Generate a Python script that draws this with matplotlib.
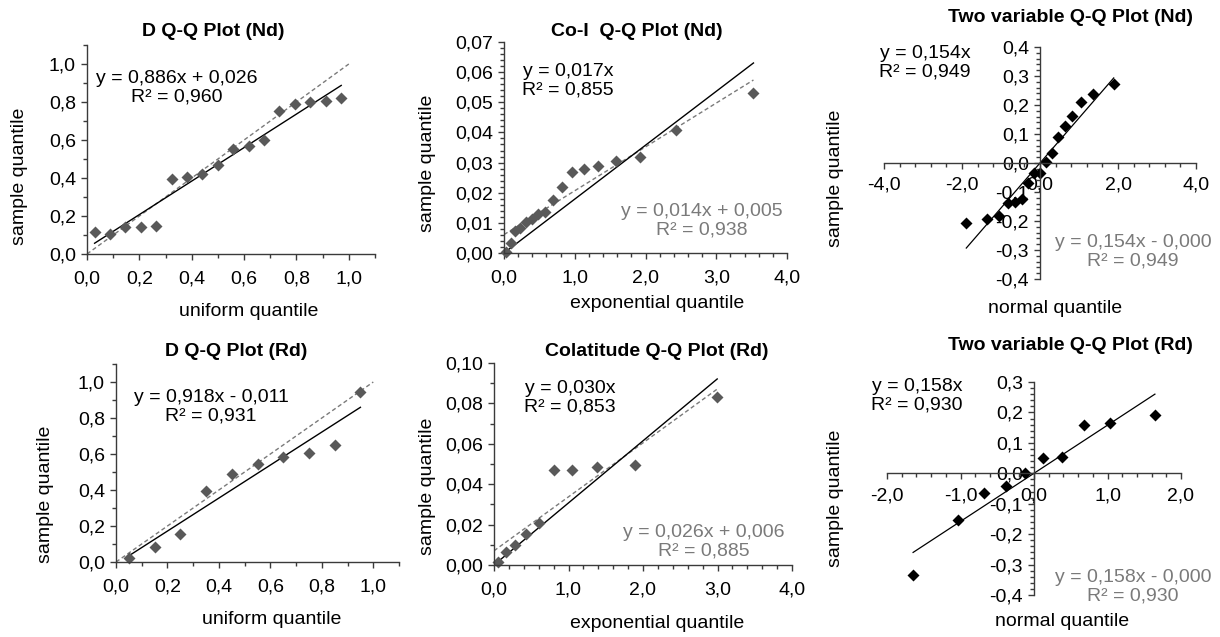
import numpy as np
import matplotlib
matplotlib.use("Agg")
import matplotlib.pyplot as plt
from matplotlib.ticker import MultipleLocator, FuncFormatter

plt.rcParams['font.family'] = ['Liberation Sans', 'DejaVu Sans']

# ---- data ----
# D Q-Q plot (Nd): uniform quantile vs sample quantile
d_nd_x = [0.029, 0.088, 0.147, 0.206, 0.265, 0.324, 0.382, 0.441, 0.500,
          0.559, 0.618, 0.676, 0.735, 0.794, 0.853, 0.912, 0.971]
d_nd_y = [0.117, 0.103, 0.143, 0.143, 0.149, 0.393, 0.406, 0.420, 0.470,
          0.551, 0.568, 0.598, 0.752, 0.787, 0.799, 0.804, 0.820]

# Co-I Q-Q plot (Nd): exponential quantile
coi_nd_x = [0.030, 0.092, 0.159, 0.231, 0.308, 0.391, 0.482, 0.583, 0.693,
            0.818, 0.962, 1.128, 1.329, 1.580, 1.917, 2.428, 3.526]
coi_nd_y = [0.0003, 0.0032, 0.0072, 0.0082, 0.0102, 0.0113, 0.0131, 0.0136, 0.0175,
            0.0218, 0.0270, 0.0278, 0.0290, 0.0304, 0.0318, 0.0407, 0.0530]

# Two variable Q-Q plot (Nd): normal quantile
two_nd_x = [-1.89, -1.35, -1.05, -0.82, -0.63, -0.46, -0.30, -0.15, 0.00,
            0.15, 0.30, 0.46, 0.63, 0.82, 1.05, 1.35, 1.89]
two_nd_y = [-0.208, -0.194, -0.183, -0.139, -0.133, -0.125, -0.068, -0.036, -0.036,
            0.005, 0.036, 0.089, 0.126, 0.162, 0.211, 0.237, 0.272]

# D Q-Q plot (Rd)
d_rd_x = [0.05, 0.15, 0.25, 0.35, 0.45, 0.55, 0.65, 0.75, 0.85, 0.95]
d_rd_y = [0.020, 0.085, 0.156, 0.394, 0.491, 0.543, 0.581, 0.607, 0.648, 0.944]

# Colatitude Q-Q plot (Rd)
col_rd_x = [0.051, 0.163, 0.288, 0.431, 0.598, 0.799, 1.050, 1.386, 1.897, 2.996]
col_rd_y = [0.0013, 0.0066, 0.0099, 0.0152, 0.0210, 0.0468, 0.0468, 0.0483, 0.0494, 0.0831]

# Two variable Q-Q plot (Rd)
two_rd_x = [-1.645, -1.036, -0.674, -0.385, -0.126, 0.126, 0.385, 0.674, 1.036, 1.645]
two_rd_y = [-0.335, -0.155, -0.064, -0.041, 0.001, 0.049, 0.052, 0.159, 0.165, 0.192]

W, H = 1220, 637
fig = plt.figure(figsize=(W / 100, H / 100), dpi=100)

GRAY_PT = '#595959'
GRAY_TXT = '#7a7a7a'
AXC = '#3a3a3a'
FS = 14


def px(x, y):
    return x / W, 1 - y / H


def axes_at(x0, x1, ytop, ybot):
    return fig.add_axes([x0 / W, 1 - ybot / H, (x1 - x0) / W, (ybot - ytop) / H])


def comma(nd):
    def f(v, pos):
        if abs(v) < 1e-9:
            v = 0.0
        return f"{v:.{nd}f}".replace('.', ',')
    return FuncFormatter(f)


def style(ax, xmaj, xmin, ymaj, ymin, xnd, ynd, centered=False):
    for s in ['top', 'right']:
        ax.spines[s].set_visible(False)
    for s in ['left', 'bottom']:
        ax.spines[s].set_color(AXC)
        ax.spines[s].set_linewidth(1.0)
    if centered:
        ax.spines['left'].set_position(('data', 0))
        ax.spines['bottom'].set_position(('data', 0))
    ax.xaxis.set_major_locator(MultipleLocator(xmaj))
    ax.xaxis.set_minor_locator(MultipleLocator(xmin))
    ax.yaxis.set_major_locator(MultipleLocator(ymaj))
    ax.yaxis.set_minor_locator(MultipleLocator(ymin))
    ax.xaxis.set_major_formatter(comma(xnd))
    ax.yaxis.set_major_formatter(comma(ynd))
    ax.tick_params(which='both', color=AXC, width=1.0, labelsize=FS)
    ax.tick_params(which='major', length=4)
    ax.tick_params(which='minor', length=3)
    ax.tick_params(axis='x', pad=8 if not centered else 6)
    ax.tick_params(axis='y', pad=4)
    ax.patch.set_alpha(0)


def fit(x, y):
    b, a = np.polyfit(x, y, 1)
    return b, a


def fit0(x, y):
    x = np.asarray(x)
    y = np.asarray(y)
    return (x * y).sum() / (x * x).sum()


def label(x, y, s, **kw):
    fig.text(*px(x, y), s, ha='center', va='center', **kw)


def eq(x, y, s, color='black'):
    fig.text(*px(x, y), s, ha='center', va='center', fontsize=FS,
             color=color, multialignment='center', linespacing=1.1)


# ---------- D Q-Q Plot (Nd) ----------
ax = axes_at(87, 375, 45, 254)
ax.set_xlim(0, 1.1)
ax.set_ylim(0, 1.1)
style(ax, 0.2, 0.1, 0.2, 0.1, 1, 1)
ax.plot([0, 1], [0, 1], color=GRAY_TXT, lw=1.0, dashes=(3, 2))
b, a = fit(d_nd_x, d_nd_y)
xs = np.array([min(d_nd_x), max(d_nd_x)])
ax.plot(xs, b * xs + a, color='black', lw=1.0)
ax.plot(d_nd_x, d_nd_y, 'D', color=GRAY_PT, ms=6.5, mec='none', clip_on=False)
label(213, 32, 'D Q-Q Plot (Nd)', fontsize=FS, fontweight='bold')
label(249, 312, 'uniform quantile', fontsize=FS)
label(20, 176, 'sample quantile', fontsize=FS, rotation=90)
eq(177, 88, 'y = 0,886x + 0,026\nR² = 0,960')

# ---------- Co-I Q-Q Plot (Nd) ----------
ax = axes_at(504, 787, 42, 253)
ax.set_xlim(0, 4)
ax.set_ylim(0, 0.07)
style(ax, 1.0, 0.2, 0.01, 0.002, 1, 2)
b, a = fit(coi_nd_x, coi_nd_y)
xs = np.array([0, max(coi_nd_x)])
ax.plot(xs, b * xs + a, color=GRAY_TXT, lw=1.0, dashes=(3, 2))
b0 = fit0(coi_nd_x, coi_nd_y)
ax.plot(xs, b0 * xs, color='black', lw=1.0)
ax.plot(coi_nd_x, coi_nd_y, 'D', color=GRAY_PT, ms=6.5, mec='none', clip_on=False)
label(637, 31, 'Co-I  Q-Q Plot (Nd)', fontsize=FS, fontweight='bold')
label(657, 303, 'exponential quantile', fontsize=FS)
label(428, 163, 'sample quantile', fontsize=FS, rotation=90)
eq(568, 81, 'y = 0,017x\nR² = 0,855')
eq(702, 221, 'y = 0,014x + 0,005\nR² = 0,938', color=GRAY_TXT)

# ---------- Two variable Q-Q Plot (Nd) ----------
ax = axes_at(884, 1196, 47, 279)
ax.set_xlim(-4, 4)
ax.set_ylim(-0.4, 0.4)
style(ax, 2.0, 0.4, 0.1, 0.02, 1, 1, centered=True)
b0 = fit0(two_nd_x, two_nd_y)
xs = np.array([min(two_nd_x), max(two_nd_x)])
ax.plot(xs, b0 * xs, color='black', lw=0.9)
ax.plot(two_nd_x, two_nd_y, 'D', color='black', ms=6, mec='none', clip_on=False)
label(1070, 17, 'Two variable Q-Q Plot (Nd)', fontsize=FS, fontweight='bold')
label(1055, 308, 'normal quantile', fontsize=FS)
label(835, 178, 'sample quantile', fontsize=FS, rotation=90)
eq(925, 63, 'y = 0,154x\nR² = 0,949')
eq(1133, 252, 'y = 0,154x - 0,000\nR² = 0,949', color=GRAY_TXT)

# ---------- D Q-Q Plot (Rd) ----------
ax = axes_at(116, 399, 364, 562)
ax.set_xlim(0, 1.1)
ax.set_ylim(0, 1.1)
style(ax, 0.2, 0.1, 0.2, 0.1, 1, 1)
ax.plot([0, 1], [0, 1], color=GRAY_TXT, lw=1.0, dashes=(3, 2))
b, a = fit(d_rd_x, d_rd_y)
xs = np.array([min(d_rd_x), max(d_rd_x)])
ax.plot(xs, b * xs + a, color='black', lw=1.0)
ax.plot(d_rd_x, d_rd_y, 'D', color=GRAY_PT, ms=6.5, mec='none', clip_on=False)
label(236, 352, 'D Q-Q Plot (Rd)', fontsize=FS, fontweight='bold')
label(272, 620, 'uniform quantile', fontsize=FS)
label(45, 494, 'sample quantile', fontsize=FS, rotation=90)
eq(211, 407, 'y = 0,918x - 0,011\nR² = 0,931')

# ---------- Colatitude Q-Q Plot (Rd) ----------
ax = axes_at(494, 792, 363, 565)
ax.set_xlim(0, 4)
ax.set_ylim(0, 0.10)
style(ax, 1.0, 0.2, 0.02, 0.01, 1, 2)
b, a = fit(col_rd_x, col_rd_y)
xs = np.array([0, max(col_rd_x)])
ax.plot(xs, b * xs + a, color=GRAY_TXT, lw=1.0, dashes=(3, 2))
b0 = fit0(col_rd_x, col_rd_y)
ax.plot(xs, b0 * xs, color='black', lw=1.0)
ax.plot(col_rd_x, col_rd_y, 'D', color=GRAY_PT, ms=6.5, mec='none', clip_on=False)
label(657, 352, 'Colatitude Q-Q Plot (Rd)', fontsize=FS, fontweight='bold')
label(657, 623, 'exponential quantile', fontsize=FS)
label(428, 486, 'sample quantile', fontsize=FS, rotation=90)
eq(570, 398, 'y = 0,030x\nR² = 0,853')
eq(704, 542, 'y = 0,026x + 0,006\nR² = 0,885', color=GRAY_TXT)

# ---------- Two variable Q-Q Plot (Rd) ----------
ax = axes_at(887, 1181, 382, 595)
ax.set_xlim(-2, 2)
ax.set_ylim(-0.4, 0.3)
style(ax, 1.0, 0.2, 0.1, 0.02, 1, 1, centered=True)
b0 = fit0(two_rd_x, two_rd_y)
xs = np.array([min(two_rd_x), max(two_rd_x)])
ax.plot(xs, b0 * xs, color='black', lw=0.9)
ax.plot(two_rd_x, two_rd_y, 'D', color='black', ms=6, mec='none', clip_on=False)
label(1070, 345, 'Two variable Q-Q Plot (Rd)', fontsize=FS, fontweight='bold')
label(1062, 622, 'normal quantile', fontsize=FS)
label(835, 498, 'sample quantile', fontsize=FS, rotation=90)
eq(917, 396, 'y = 0,158x\nR² = 0,930')
eq(1133, 587, 'y = 0,158x - 0,000\nR² = 0,930', color=GRAY_TXT)

fig.savefig('out.png', dpi=100)
